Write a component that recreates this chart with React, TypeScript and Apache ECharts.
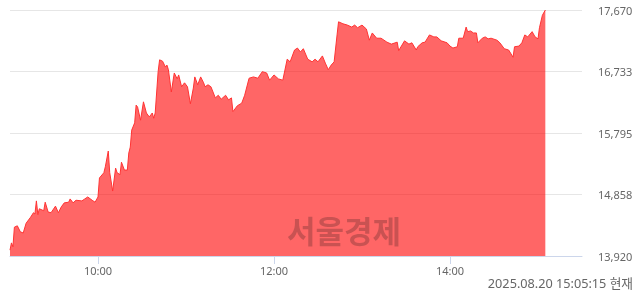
import React, { useEffect, useRef } from "react";
import * as echarts from "echarts";

// minutes after 09:00
const minutes = [0,1,2,3,5,7,9,11,14,16,17,18,19,20,23,24,26,28,31,33,35,37,40,41,43,45,49,51,53,56,58,60,61,64,65,67,68,70,72,73,75,76,78,80,81,82,83,85,86,87,89,91,93,95,97,98,99,101,102,104,106,107,108,110,112,114,115,117,119,121,123,125,126,128,130,132,133,135,137,140,142,144,147,149,151,152,155,158,160,163,166,169,172,175,177,180,183,186,189,191,194,196,198,200,203,206,208,210,213,215,217,219,221,223,224,227,230,233,235,237,240,243,245,247,250,253,257,260,264,265,269,272,274,277,278,281,283,286,289,291,294,298,300,302,305,306,309,311,312,314,316,318,319,322,324,326,328,332,334,337,340,343,344,347,349,351,353,356,358,360,361,363,365];
const prices = [14010,14120,14060,14360,14380,14290,14270,14420,14510,14580,14560,14760,14550,14640,14610,14740,14590,14580,14680,14580,14670,14730,14740,14790,14730,14770,14760,14790,14820,14770,14740,14820,15110,15190,15280,15520,15190,14910,15260,15190,15160,15350,15230,15230,15490,15580,15840,15950,16220,16190,15990,16270,16100,16040,16100,16020,16100,16730,16910,16890,16800,16830,16760,16420,16710,16620,16680,16500,16560,16500,16240,16480,16650,16530,16650,16560,16500,16530,16500,16330,16370,16310,16370,16300,16330,16120,16210,16250,16370,16630,16650,16630,16730,16710,16600,16680,16620,16600,16920,16880,17060,17090,17030,17080,16920,16880,16920,16880,16970,16860,16760,16830,16880,17290,17490,17460,17440,17410,17440,17400,17440,17380,17210,17320,17240,17240,17180,17150,17180,17050,17200,17150,17170,17060,17110,17170,17180,17290,17260,17260,17200,17170,17120,17090,17110,17240,17240,17410,17340,17350,17320,17320,17170,17240,17260,17230,17240,17210,17170,17080,17060,16950,17110,17120,17170,17290,17260,17340,17260,17230,17400,17590,17670];
const yTicks = [13920, 14857.5, 15795, 16732.5, 17670];
const xTicks = [60, 180, 300];
const watermark = "서울경제";
const stamp = "2025.08.20 15:05:15 현재";

const fmtTime = (m: number) => {
  const h = 9 + Math.floor(m / 60);
  const mm = m % 60;
  return `${h}:${mm < 10 ? "0" + mm : mm}`;
};

export default function App() {
  const ref = useRef<HTMLDivElement>(null);
  useEffect(() => {
    if (!ref.current) return;
    const chart = echarts.init(ref.current, undefined, { renderer: "svg" });
    const font = "'Noto Sans', 'Noto Sans CJK KR', sans-serif";
    chart.setOption({
      animation: false,
      grid: { left: 10, right: 58, top: 10, bottom: 38 },
      xAxis: {
        type: "value",
        min: 0,
        max: 390,
        axisLine: { show: true, lineStyle: { color: "#ccd6eb", width: 1 } },
        axisTick: { show: true, customValues: xTicks, length: 8, lineStyle: { color: "#ccd6eb" } },
        axisLabel: {
          customValues: xTicks,
          formatter: (v: number) => fmtTime(v),
          color: "#666666",
          fontSize: 11,
          fontFamily: font,
          margin: 9,
        },
        splitLine: { show: false },
      },
      yAxis: {
        type: "value",
        position: "right",
        min: 13920,
        max: 17670,
        axisLine: { show: false },
        axisTick: { show: false, customValues: yTicks },
        axisLabel: {
          customValues: yTicks,
          formatter: (v: number) => Math.round(v).toLocaleString("en-US"),
          color: "#666666",
          fontSize: 11,
          fontFamily: font,
          margin: 16,
          align: "left",
        },
        splitLine: { show: true, lineStyle: { color: "#e6e6e6", width: 1 } },
      },
      graphic: [
        {
          type: "text",
          left: 287,
          top: 214,
          z: 100,
          style: {
            text: watermark,
            font: "bold 31px 'Noto Sans CJK KR', sans-serif",
            fill: "rgba(60,30,30,0.28)",
          },
        },
        {
          type: "text",
          right: 7,
          top: 277,
          style: {
            text: stamp,
            font: "12.7px 'Noto Sans', 'Noto Sans CJK KR', sans-serif",
            fill: "#666666",
          },
        },
      ],
      series: [
        {
          type: "line",
          data: minutes.map((m, i) => [m, prices[i]]),
          symbol: "none",
          lineStyle: { color: "#ff3333", width: 1 },
          areaStyle: { color: "rgba(255,0,0,0.6)", opacity: 1, origin: "start" },
        },
      ],
    });
    return () => chart.dispose();
  }, []);
  return (
    <div
      ref={ref}
      style={{ position: "fixed", left: 0, top: 0, width: 640, height: 294 }}
    />
  );
}
